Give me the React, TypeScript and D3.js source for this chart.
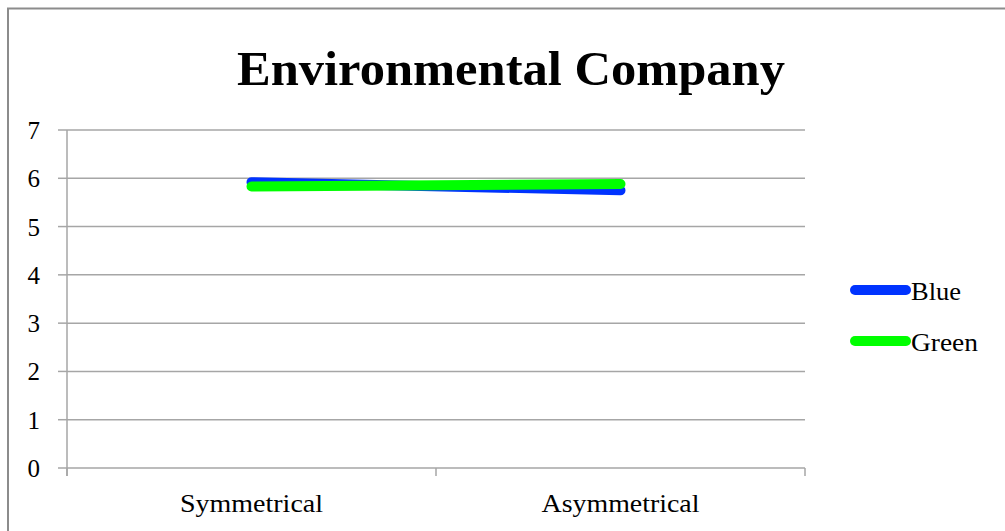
import React from "react";
import * as d3 from "d3";

const categories: string[] = ["Symmetrical", "Asymmetrical"];
const blueValues: number[] = [5.92, 5.75];
const greenValues: number[] = [5.83, 5.88];
const yTicks: number[] = [0, 1, 2, 3, 4, 5, 6, 7];
const seriesNames: string[] = ["Blue", "Green"];
const seriesColors: string[] = ["#0033ff", "#00ff00"];

const W = 1005;
const H = 531;
const plot = { left: 67, right: 805, top: 130, bottom: 468 };
const FONT = "'Liberation Serif', 'DejaVu Serif', serif";

export default function App() {
  const x = d3
    .scaleBand<string>()
    .domain(categories)
    .range([plot.left, plot.right])
    .padding(0);
  const y = d3.scaleLinear().domain([0, 7]).range([plot.bottom, plot.top]);

  const line = d3
    .line<number>()
    .x((_, i) => (x(categories[i]) as number) + x.bandwidth() / 2)
    .y((d) => y(d));

  const series = [blueValues, greenValues];
  const grid = "#a6a6a6";
  const bandEdges = [...categories.map((c) => x(c) as number), plot.right];

  return (
    <svg
      width={W}
      height={H}
      style={{ position: "absolute", left: 0, top: 0, background: "#fff" }}
    >
      {/* chart frame */}
      <rect x={8} y={8.5} width={W + 20} height={H + 20} fill="none" stroke="#8c8c8c" strokeWidth={2} />

      <text
        x={511}
        y={85}
        textAnchor="middle"
        fontFamily={FONT}
        fontWeight="bold"
        fontSize={48}
        textLength={548}
        lengthAdjust="spacingAndGlyphs"
        fill="#000"
      >
        Environmental Company
      </text>

      {/* horizontal gridlines and y ticks */}
      {yTicks.map((t) => (
        <g key={t}>
          <line x1={plot.left} x2={plot.right} y1={y(t)} y2={y(t)} stroke={grid} strokeWidth={1.5} />
          <line x1={58} x2={plot.left} y1={y(t)} y2={y(t)} stroke={grid} strokeWidth={1.5} />
          <text x={40} y={y(t) + 9} textAnchor="end" fontFamily={FONT} fontSize={25} fill="#000">
            {t}
          </text>
        </g>
      ))}

      {/* axes */}
      <line x1={plot.left} x2={plot.left} y1={plot.top} y2={plot.bottom + 8} stroke={grid} strokeWidth={1.5} />
      {bandEdges.map((e, i) => (
        <line key={i} x1={e} x2={e} y1={plot.bottom} y2={plot.bottom + 8} stroke={grid} strokeWidth={1.5} />
      ))}

      {categories.map((c) => (
        <text
          key={c}
          x={(x(c) as number) + x.bandwidth() / 2}
          y={512}
          textAnchor="middle"
          fontFamily={FONT}
          fontSize={25}
          textLength={c === "Symmetrical" ? 143 : 158}
          lengthAdjust="spacingAndGlyphs"
          fill="#000"
        >
          {c}
        </text>
      ))}

      {/* series lines */}
      {series.map((vals, i) => (
        <path
          key={i}
          d={line(vals) as string}
          fill="none"
          stroke={seriesColors[i]}
          strokeWidth={10}
          strokeLinecap="round"
          strokeLinejoin="round"
        />
      ))}

      {/* legend */}
      {seriesNames.map((n, i) => {
        const ly = 290 + i * 51;
        return (
          <g key={n}>
            <line x1={855} x2={906} y1={ly} y2={ly} stroke={seriesColors[i]} strokeWidth={10} strokeLinecap="round" />
            <text
              x={911}
              y={ly + 10}
              fontFamily={FONT}
              fontSize={25}
              textLength={n === "Blue" ? 50 : 67}
              lengthAdjust="spacingAndGlyphs"
              fill="#000"
            >
              {n}
            </text>
          </g>
        );
      })}
    </svg>
  );
}
